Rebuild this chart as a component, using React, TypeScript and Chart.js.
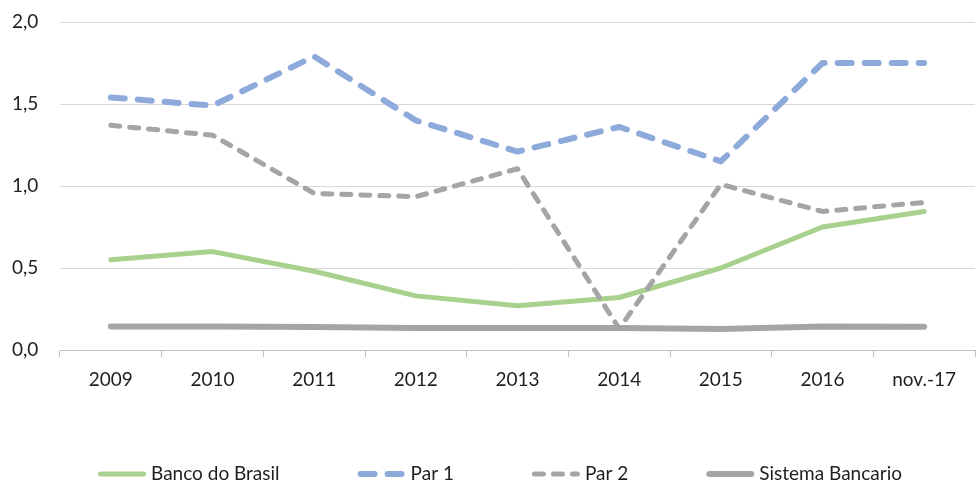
import React, { useEffect, useRef } from "react";
import { Chart, registerables } from "chart.js";

Chart.register(...registerables);

const categories = ["2009", "2010", "2011", "2012", "2013", "2014", "2015", "2016", "nov.-17"];
const bancoDoBrasil = [0.55, 0.6, 0.48, 0.33, 0.27, 0.32, 0.5, 0.75, 0.845];
const par1 = [1.54, 1.49, 1.79, 1.4, 1.21, 1.36, 1.15, 1.75, 1.75];
const par2 = [1.37, 1.31, 0.955, 0.935, 1.105, 0.13, 1.01, 0.845, 0.9];
const sistemaBancario = [0.144, 0.144, 0.14, 0.134, 0.134, 0.134, 0.128, 0.144, 0.142];
const seriesLabels = ["Banco do Brasil", "Par 1", "Par 2", "Sistema Bancario"];

const FONT = "Lato, 'Noto Sans', sans-serif";
const FONT_SIZE = 19;
const TEXT_COLOR = "#1f1f1f";

const lineLegend = {
  id: "lineLegend",
  afterDraw(chart: any) {
    const ctx = chart.ctx as CanvasRenderingContext2D;
    const lineLen = 48;
    const textGap = 5;
    const itemGap = 78;
    ctx.save();
    ctx.font = `${FONT_SIZE}px ${FONT}`;
    const items = chart.data.datasets.map((ds: any) => ({
      label: ds.label as string,
      color: ds.borderColor as string,
      width: ds.borderWidth as number,
      dash: (ds.borderDash || []) as number[],
    }));
    const widths = items.map((it: any) => lineLen + textGap + ctx.measureText(it.label).width);
    const total = widths.reduce((a: number, b: number) => a + b, 0) + itemGap * (items.length - 1);
    let x = (chart.width - total) / 2 + 12;
    const y = chart.height - 6;
    items.forEach((it: any, i: number) => {
      ctx.beginPath();
      ctx.strokeStyle = it.color;
      ctx.lineWidth = it.width;
      ctx.lineCap = "round";
      ctx.setLineDash(it.dash);
      const inset = it.width / 2;
      ctx.moveTo(x + inset, y);
      ctx.lineTo(x + lineLen - inset, y);
      ctx.stroke();
      ctx.setLineDash([]);
      ctx.fillStyle = TEXT_COLOR;
      ctx.textBaseline = "middle";
      ctx.textAlign = "left";
      ctx.fillText(it.label, x + lineLen + textGap, y);
      x += widths[i] + itemGap;
    });
    ctx.restore();
  },
};

export default function App() {
  const canvasRef = useRef<HTMLCanvasElement | null>(null);

  useEffect(() => {
    if (!canvasRef.current) return;
    const chart = new Chart(canvasRef.current, {
      type: "line",
      data: {
        labels: categories,
        datasets: [
          {
            label: seriesLabels[0],
            data: bancoDoBrasil,
            borderColor: "#A9D18E",
            borderWidth: 5,
            borderCapStyle: "round",
            borderJoinStyle: "round",
            pointRadius: 0,
            order: 4,
          },
          {
            label: seriesLabels[1],
            data: par1,
            borderColor: "#8EAADB",
            borderWidth: 6,
            borderDash: [14, 13],
            borderCapStyle: "round",
            borderJoinStyle: "round",
            pointRadius: 0,
            order: 3,
          },
          {
            label: seriesLabels[2],
            data: par2,
            borderColor: "#A5A5A5",
            borderWidth: 5,
            borderDash: [9, 10],
            borderCapStyle: "round",
            borderJoinStyle: "round",
            pointRadius: 0,
            order: 2,
          },
          {
            label: seriesLabels[3],
            data: sistemaBancario,
            borderColor: "#A5A5A5",
            borderWidth: 6,
            borderCapStyle: "round",
            borderJoinStyle: "round",
            pointRadius: 0,
            order: 1,
          },
        ],
      },
      options: {
        responsive: true,
        maintainAspectRatio: false,
        animation: false,
        layout: { padding: { top: 22, left: 12, right: 1, bottom: 90 } },
        plugins: {
          legend: { display: false },
          tooltip: { enabled: false },
        },
        scales: {
          x: {
            offset: true,
            afterFit: (scale: any) => {
              scale.height = 40;
            },
            grid: {
              offset: true,
              drawOnChartArea: false,
              drawTicks: true,
              tickLength: 7,
              color: "#BFBFBF",
            },
            border: { display: true, color: "#BFBFBF", width: 1 },
            ticks: {
              color: TEXT_COLOR,
              font: { family: FONT, size: FONT_SIZE },
              padding: 11,
              maxRotation: 0,
              autoSkip: false,
            },
          },
          y: {
            min: 0,
            max: 2,
            afterFit: (scale: any) => {
              scale.width = 48;
            },
            grid: { color: "#D9D9D9", drawTicks: false },
            border: { display: false },
            ticks: {
              stepSize: 0.5,
              color: TEXT_COLOR,
              padding: 0,
              crossAlign: "far",
              font: { family: FONT, size: FONT_SIZE },
              callback: (v: any) => Number(v).toFixed(1).replace(".", ","),
            },
          },
        },
      },
      plugins: [lineLegend],
    });
    return () => chart.destroy();
  }, []);

  return (
    <div style={{ position: "fixed", left: 0, top: 0, width: 976, height: 480, background: "#fff" }}>
      <canvas ref={canvasRef} />
    </div>
  );
}
